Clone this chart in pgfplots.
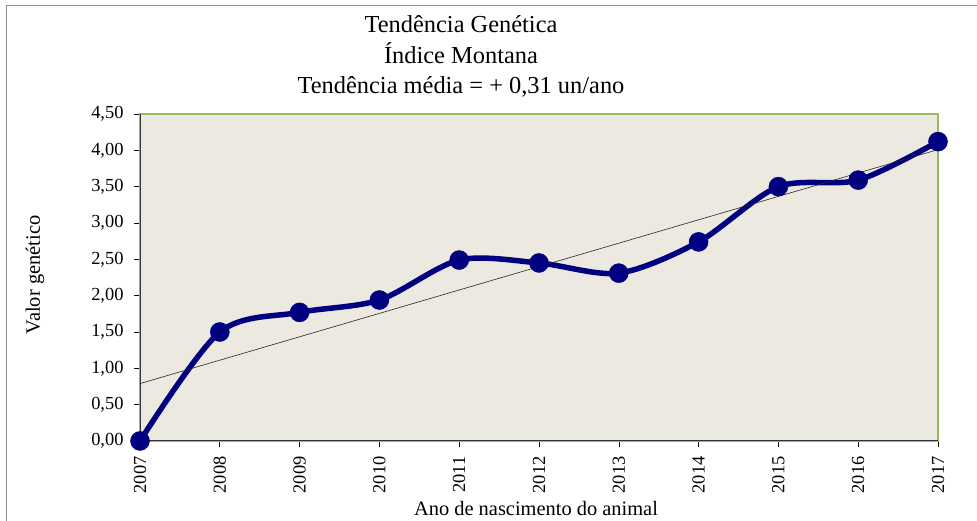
\documentclass[border=0pt]{standalone}
\usepackage{pgfplots}
\pgfplotsset{compat=1.18}
\usepackage{fontspec}
\setmainfont{Liberation Serif}
\definecolor{navy}{RGB}{0,0,128}
\definecolor{plotbg}{RGB}{236,233,224}
\definecolor{frame}{RGB}{155,187,89}
\begin{document}
\begin{tikzpicture}[x=1bp,y=1bp]
\path[use as bounding box] (0,0) rectangle (977,521);
\draw[gray!90, line width=1.2bp] (6.5,0) -- (6.5,515.5) -- (977,515.5);
\begin{axis}[
  at={(140bp,80bp)}, anchor=south west,
  scale only axis, width=798bp, height=327bp,
  xmin=2007, xmax=2017, ymin=0, ymax=4.5,
  xtick={2007,2008,...,2017},
  ytick={0,0.5,...,4.5},
  axis background/.style={fill=plotbg},
  axis line style={draw=frame, line width=1.2bp},
  tick align=outside, xtick pos=bottom, ytick pos=left,
  major tick length=6bp,
  tick style={black, line width=0.6bp},
  /pgf/number format/assume math mode=true,
  x tick label style={rotate=90, anchor=east, xshift=-6bp, font=\fontsize{18.5}{22}\selectfont, /pgf/number format/1000 sep={}},
  y tick label style={xshift=-7bp, font=\fontsize{18.5}{22}\selectfont, /pgf/number format/.cd, fixed, fixed zerofill, precision=2, use comma},
  clip=false,
]
\draw[black!80, line width=1bp] (rel axis cs:0,1) -- (rel axis cs:0,0) -- (rel axis cs:1,0);
\addplot[navy, line width=5.5bp, smooth, tension=0.5, mark=*, mark size=9.5bp, mark options={fill=navy, draw=navy, line width=0.5bp}]
coordinates {
(2007,0.00) (2008,1.50) (2009,1.77) (2010,1.94) (2011,2.49) (2012,2.45)
(2013,2.31) (2014,2.74) (2015,3.50) (2016,3.59) (2017,4.12)
};
\addplot[black!85, line width=0.6bp, no marks] coordinates {(2007,0.79) (2017,4.01)};
\end{axis}
\node[anchor=base, font=\fontsize{24.5}{29}\selectfont] at (461,488.3) {Tendência Genética};
\node[anchor=base, font=\fontsize{24.5}{29}\selectfont] at (461,457.7) {Índice Montana};
\node[anchor=base, font=\fontsize{24.5}{29}\selectfont] at (461,427.7) {Tendência média = + 0,31 un/ano};
\node[rotate=90, font=\fontsize{20.5}{24}\selectfont] at (35,246) {Valor genético};
\node[anchor=base, font=\fontsize{20.5}{24}\selectfont] at (536,5) {Ano de nascimento do animal};
\end{tikzpicture}
\end{document}
